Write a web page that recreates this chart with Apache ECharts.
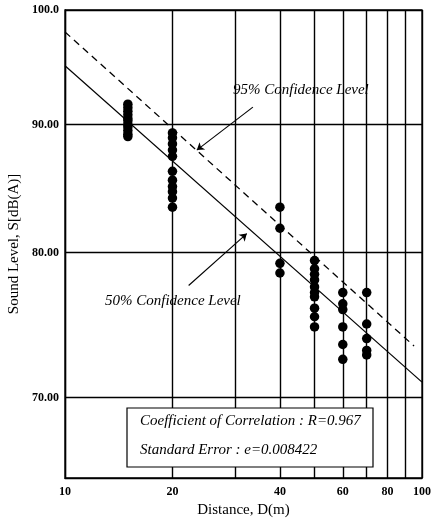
<!DOCTYPE html>
<html>
<head>
<meta charset="utf-8">
<script src="https://cdn.jsdelivr.net/npm/echarts@6/dist/echarts.min.js"></script>
<style>
  html, body { margin: 0; padding: 0; background: #fff; }
  #chart { width: 433px; height: 518px; }
</style>
</head>
<body>
<div id="chart"></div>
<script>
// measured points, distance (m) and sound level dB(A)
const d15 = [91.7, 91.4, 91.1, 90.8, 90.5, 90.3, 90.0, 89.8, 89.5, 89.2, 89.0];
const d20 = [89.3, 88.9, 88.4, 87.9, 87.4, 86.2, 85.5, 85.0, 84.6, 84.1, 83.4];
const d40 = [83.4, 81.8, 79.2, 78.5];
const d50 = [79.4, 78.8, 78.4, 78.0, 77.5, 77.1, 76.8, 76.0, 75.4, 74.7];
const d60 = [77.1, 76.3, 75.9, 74.7, 73.5, 72.5];
const d70 = [77.1, 74.9, 73.9, 73.1, 72.8];

// regression lines (end points)
const line50 = [[10, 95.0], [100, 71.0]];
const line95 = [[10, 98.0], [95, 73.4]];

// arrows from labels to lines
const arrow95 = [[33.6, 91.45], [23.4, 87.9]];
const arrow50 = [[22.2, 77.6], [32.3, 81.4]];

const yTicks = [70, 80, 90, 100];
const xGrid = [10, 20, 30, 40, 50, 60, 70, 80, 90, 100];
const xLabels = [10, 20, 40, 60, 80, 100];

const points = [];
[[15, d15], [20, d20], [40, d40], [50, d50], [60, d60], [70, d70]].forEach(([d, arr]) => {
  arr.forEach(v => points.push([d, v]));
});

const serif = 'Liberation Serif, Times New Roman, serif';

const chart = echarts.init(document.getElementById('chart'));
chart.setOption({
  animation: false,
  grid: {
    left: 65,
    right: 11,
    top: 10,
    bottom: 40,
    outerBoundsMode: 'none',
    show: true,
    borderColor: '#000',
    borderWidth: 1.3
  },
  xAxis: {
    type: 'log',
    logBase: 10,
    min: 10,
    max: 100,
    name: 'Distance, D(m)',
    nameLocation: 'middle',
    nameGap: 22,
    nameTextStyle: { fontFamily: serif, fontSize: 15, color: '#000' },
    axisLine: { show: true, lineStyle: { color: '#000', width: 1.3 } },
    axisTick: { show: false, customValues: xGrid },
    axisLabel: {
      customValues: xLabels,
      fontFamily: serif,
      fontSize: 12,
      fontWeight: 'bold',
      color: '#000',
      margin: 8
    },
    splitLine: { show: true, lineStyle: { color: '#000', width: 1.4 } }
  },
  yAxis: {
    type: 'log',
    logBase: 10,
    min: 65,
    max: 100,
    name: 'Sound Level, S[dB(A)]',
    nameLocation: 'middle',
    nameGap: 36,
    nameTextStyle: { fontFamily: serif, fontSize: 15, color: '#000' },
    axisLine: { show: true, lineStyle: { color: '#000', width: 1.3 } },
    axisTick: { show: false, customValues: yTicks },
    axisLabel: {
      customValues: yTicks,
      fontFamily: serif,
      fontSize: 12,
      fontWeight: 'bold',
      color: '#000',
      margin: 6,
      formatter: v => (v === 100 ? '100.0' : Number(v).toFixed(2))
    },
    splitLine: { show: true, lineStyle: { color: '#000', width: 1.3 } }
  },
  series: [
    {
      name: '50% Confidence Level',
      type: 'line',
      data: line50,
      symbol: 'none',
      lineStyle: { color: '#000', width: 1.2 },
      markLine: {
        silent: true,
        symbol: ['none', 'arrow'],
        symbolSize: 7,
        label: { show: false },
        lineStyle: { color: '#000', width: 1.1, type: 'solid' },
        data: [
          [{ coord: arrow50[0] }, { coord: arrow50[1] }],
          [{ coord: arrow95[0] }, { coord: arrow95[1] }]
        ]
      },
      z: 3
    },
    {
      name: '95% Confidence Level',
      type: 'line',
      data: line95,
      symbol: 'none',
      lineStyle: { color: '#000', width: 1.3, type: [7, 5] },
      z: 3
    },
    {
      name: 'Measured',
      type: 'scatter',
      data: points,
      symbol: 'circle',
      symbolSize: 9.5,
      itemStyle: { color: '#000', opacity: 1 },
      z: 4
    }
  ],
  graphic: [
    {
      type: 'text',
      left: 233,
      top: 83,
      style: { text: '95% Confidence Level', font: 'italic 15px ' + serif, fill: '#000' }
    },
    {
      type: 'text',
      left: 105,
      top: 294,
      style: { text: '50% Confidence Level', font: 'italic 15px ' + serif, fill: '#000' }
    },
    {
      type: 'rect',
      shape: { x: 127, y: 408, width: 246, height: 59 },
      style: { fill: '#fff', stroke: '#000', lineWidth: 1.2 },
      z: 10
    },
    {
      type: 'text',
      left: 140,
      top: 414,
      z: 11,
      style: { text: 'Coefficient of Correlation : R=0.967', font: 'italic 15px ' + serif, fill: '#000' }
    },
    {
      type: 'text',
      left: 140,
      top: 443,
      z: 11,
      style: { text: 'Standard Error : e=0.008422', font: 'italic 15px ' + serif, fill: '#000' }
    }
  ]
});
</script>
</body>
</html>
